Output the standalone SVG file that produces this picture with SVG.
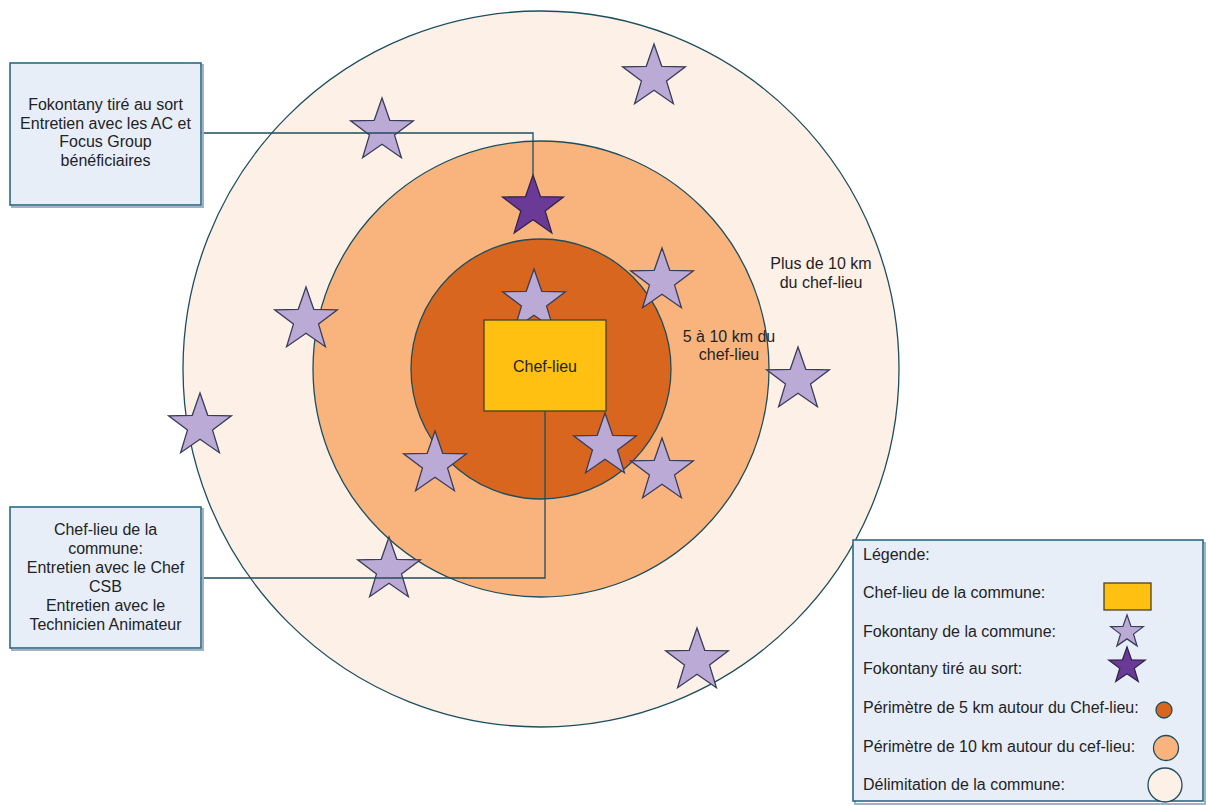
<svg xmlns="http://www.w3.org/2000/svg" xmlns:xlink="http://www.w3.org/1999/xlink" width="1209" height="805" viewBox="0 0 1209 805">
<style>
  text { font-family: "Liberation Sans", Arial, sans-serif; font-size: 16px; fill: #1f2326; }
  .c { text-anchor: middle; }
  .ring { stroke: #1d4e5e; stroke-width: 1.3; }
  .outer { fill: #fdf0e6; }
  .mid { fill: #f8b47c; }
  .inner { fill: #d9661f; }
  .star { fill: #baaad5; stroke: #3a3d5a; stroke-width: 1.3; }
  .tstar { fill: #6a3a96; stroke: #2e2448; stroke-width: 1.3; }
  .box { fill: #e7eef8; stroke: #2c6a82; stroke-width: 1.6; }
  .shadow { fill: none; stroke: #9fb3c4; stroke-width: 2; }
  .conn { fill: none; stroke: #1d4e5e; stroke-width: 1.3; }
  .chef { fill: #ffc012; stroke: #4a4320; stroke-width: 1.3; }
</style>
<defs>
  <path id="starShape" d="M0,-33 L7.76,-10.68 L31.38,-10.2 L12.55,4.08 L19.4,26.7 L0,13.2 L-19.4,26.7 L-12.55,4.08 L-31.38,-10.2 L-7.76,-10.68 Z"/>
</defs>
<rect width="1209" height="805" fill="#ffffff"/>

<g id="zone-commune">
  <circle class="ring outer" cx="541" cy="369" r="358"/>
  <text class="c" x="821" y="269">Plus de 10 km</text>
  <text class="c" x="821" y="288">du chef-lieu</text>
</g>
<g id="zone-10km">
  <circle class="ring mid" cx="541" cy="369" r="228"/>
</g>
<g id="zone-5km">
  <circle class="ring inner" cx="541" cy="369" r="130"/>
</g>
<g id="label-5-10">
  <text class="c" x="729" y="342">5 à 10 km du</text>
  <text class="c" x="729" y="360">chef-lieu</text>
</g>

<g id="fokontany">
  <use id="fk1" class="star" xlink:href="#starShape" transform="translate(382,131)"/>
  <use id="fk2" class="star" xlink:href="#starShape" transform="translate(654,77)"/>
  <use id="fk3" class="star" xlink:href="#starShape" transform="translate(534,302)"/>
  <use id="fk4" class="star" xlink:href="#starShape" transform="translate(662,281)"/>
  <use id="fk5" class="star" xlink:href="#starShape" transform="translate(798,380)"/>
  <use id="fk6" class="star" xlink:href="#starShape" transform="translate(306,320)"/>
  <use id="fk7" class="star" xlink:href="#starShape" transform="translate(200,426)"/>
  <use id="fk8" class="star" xlink:href="#starShape" transform="translate(435,464)"/>
  <use id="fk9" class="star" xlink:href="#starShape" transform="translate(605,446)"/>
  <use id="fk10" class="star" xlink:href="#starShape" transform="translate(662,471)"/>
  <use id="fk11" class="star" xlink:href="#starShape" transform="translate(389,570)"/>
  <use id="fk12" class="star" xlink:href="#starShape" transform="translate(697,661)"/>
</g>
<g id="fokontany-tire">
  <use class="tstar" xlink:href="#starShape" transform="translate(533,207) scale(0.97)"/>
</g>

<g id="chef-lieu">
  <rect class="chef" x="484" y="320" width="122" height="91"/>
  <text class="c" x="545" y="372">Chef-lieu</text>
</g>

<g id="connectors">
  <polyline class="conn" points="201,133 533,133 533,175"/>
  <polyline class="conn" points="545,411 545,578 201,578"/>
</g>

<g id="note-fokontany">
  <rect class="shadow" x="12" y="65" width="191" height="142"/>
  <rect class="box" x="10" y="63" width="191" height="142"/>
  <text class="c" x="105.5" y="110">Fokontany tiré au sort</text>
  <text class="c" x="105.5" y="128.5">Entretien avec les AC et</text>
  <text class="c" x="105.5" y="147">Focus Group</text>
  <text class="c" x="105.5" y="165.5">bénéficiaires</text>
</g>

<g id="note-chef-lieu">
  <rect class="shadow" x="12" y="509" width="191" height="141"/>
  <rect class="box" x="10" y="507" width="191" height="141"/>
  <text class="c" x="105.5" y="535">Chef-lieu de la</text>
  <text class="c" x="105.5" y="554">commune:</text>
  <text class="c" x="105.5" y="573">Entretien avec le Chef</text>
  <text class="c" x="105.5" y="592">CSB</text>
  <text class="c" x="105.5" y="611">Entretien avec le</text>
  <text class="c" x="105.5" y="630">Technicien Animateur</text>
</g>

<g id="legend">
  <rect class="shadow" x="855" y="543" width="350" height="261"/>
  <rect class="box" x="853" y="540" width="350" height="261"/>
  <text x="863" y="560">Légende:</text>
  <text x="863" y="598">Chef-lieu de la commune:</text>
  <rect class="chef" x="1104" y="583" width="47" height="27"/>
  <text x="863" y="637">Fokontany de la commune:</text>
  <use class="star" xlink:href="#starShape" transform="translate(1127,632) scale(0.52)" style="stroke-width:2.4"/>
  <text x="863" y="674">Fokontany tiré au sort:</text>
  <use class="tstar" xlink:href="#starShape" transform="translate(1127,666) scale(0.58)" style="stroke-width:2.2"/>
  <text x="863" y="713">Périmètre de 5 km autour du Chef-lieu:</text>
  <circle class="ring inner" cx="1164" cy="710" r="8"/>
  <text x="863" y="752">Périmètre de 10 km autour du cef-lieu:</text>
  <circle class="ring mid" cx="1166" cy="748" r="12.5"/>
  <text x="863" y="790">Délimitation de la commune:</text>
  <circle class="ring outer" cx="1165" cy="785" r="17"/>
</g>
</svg>
